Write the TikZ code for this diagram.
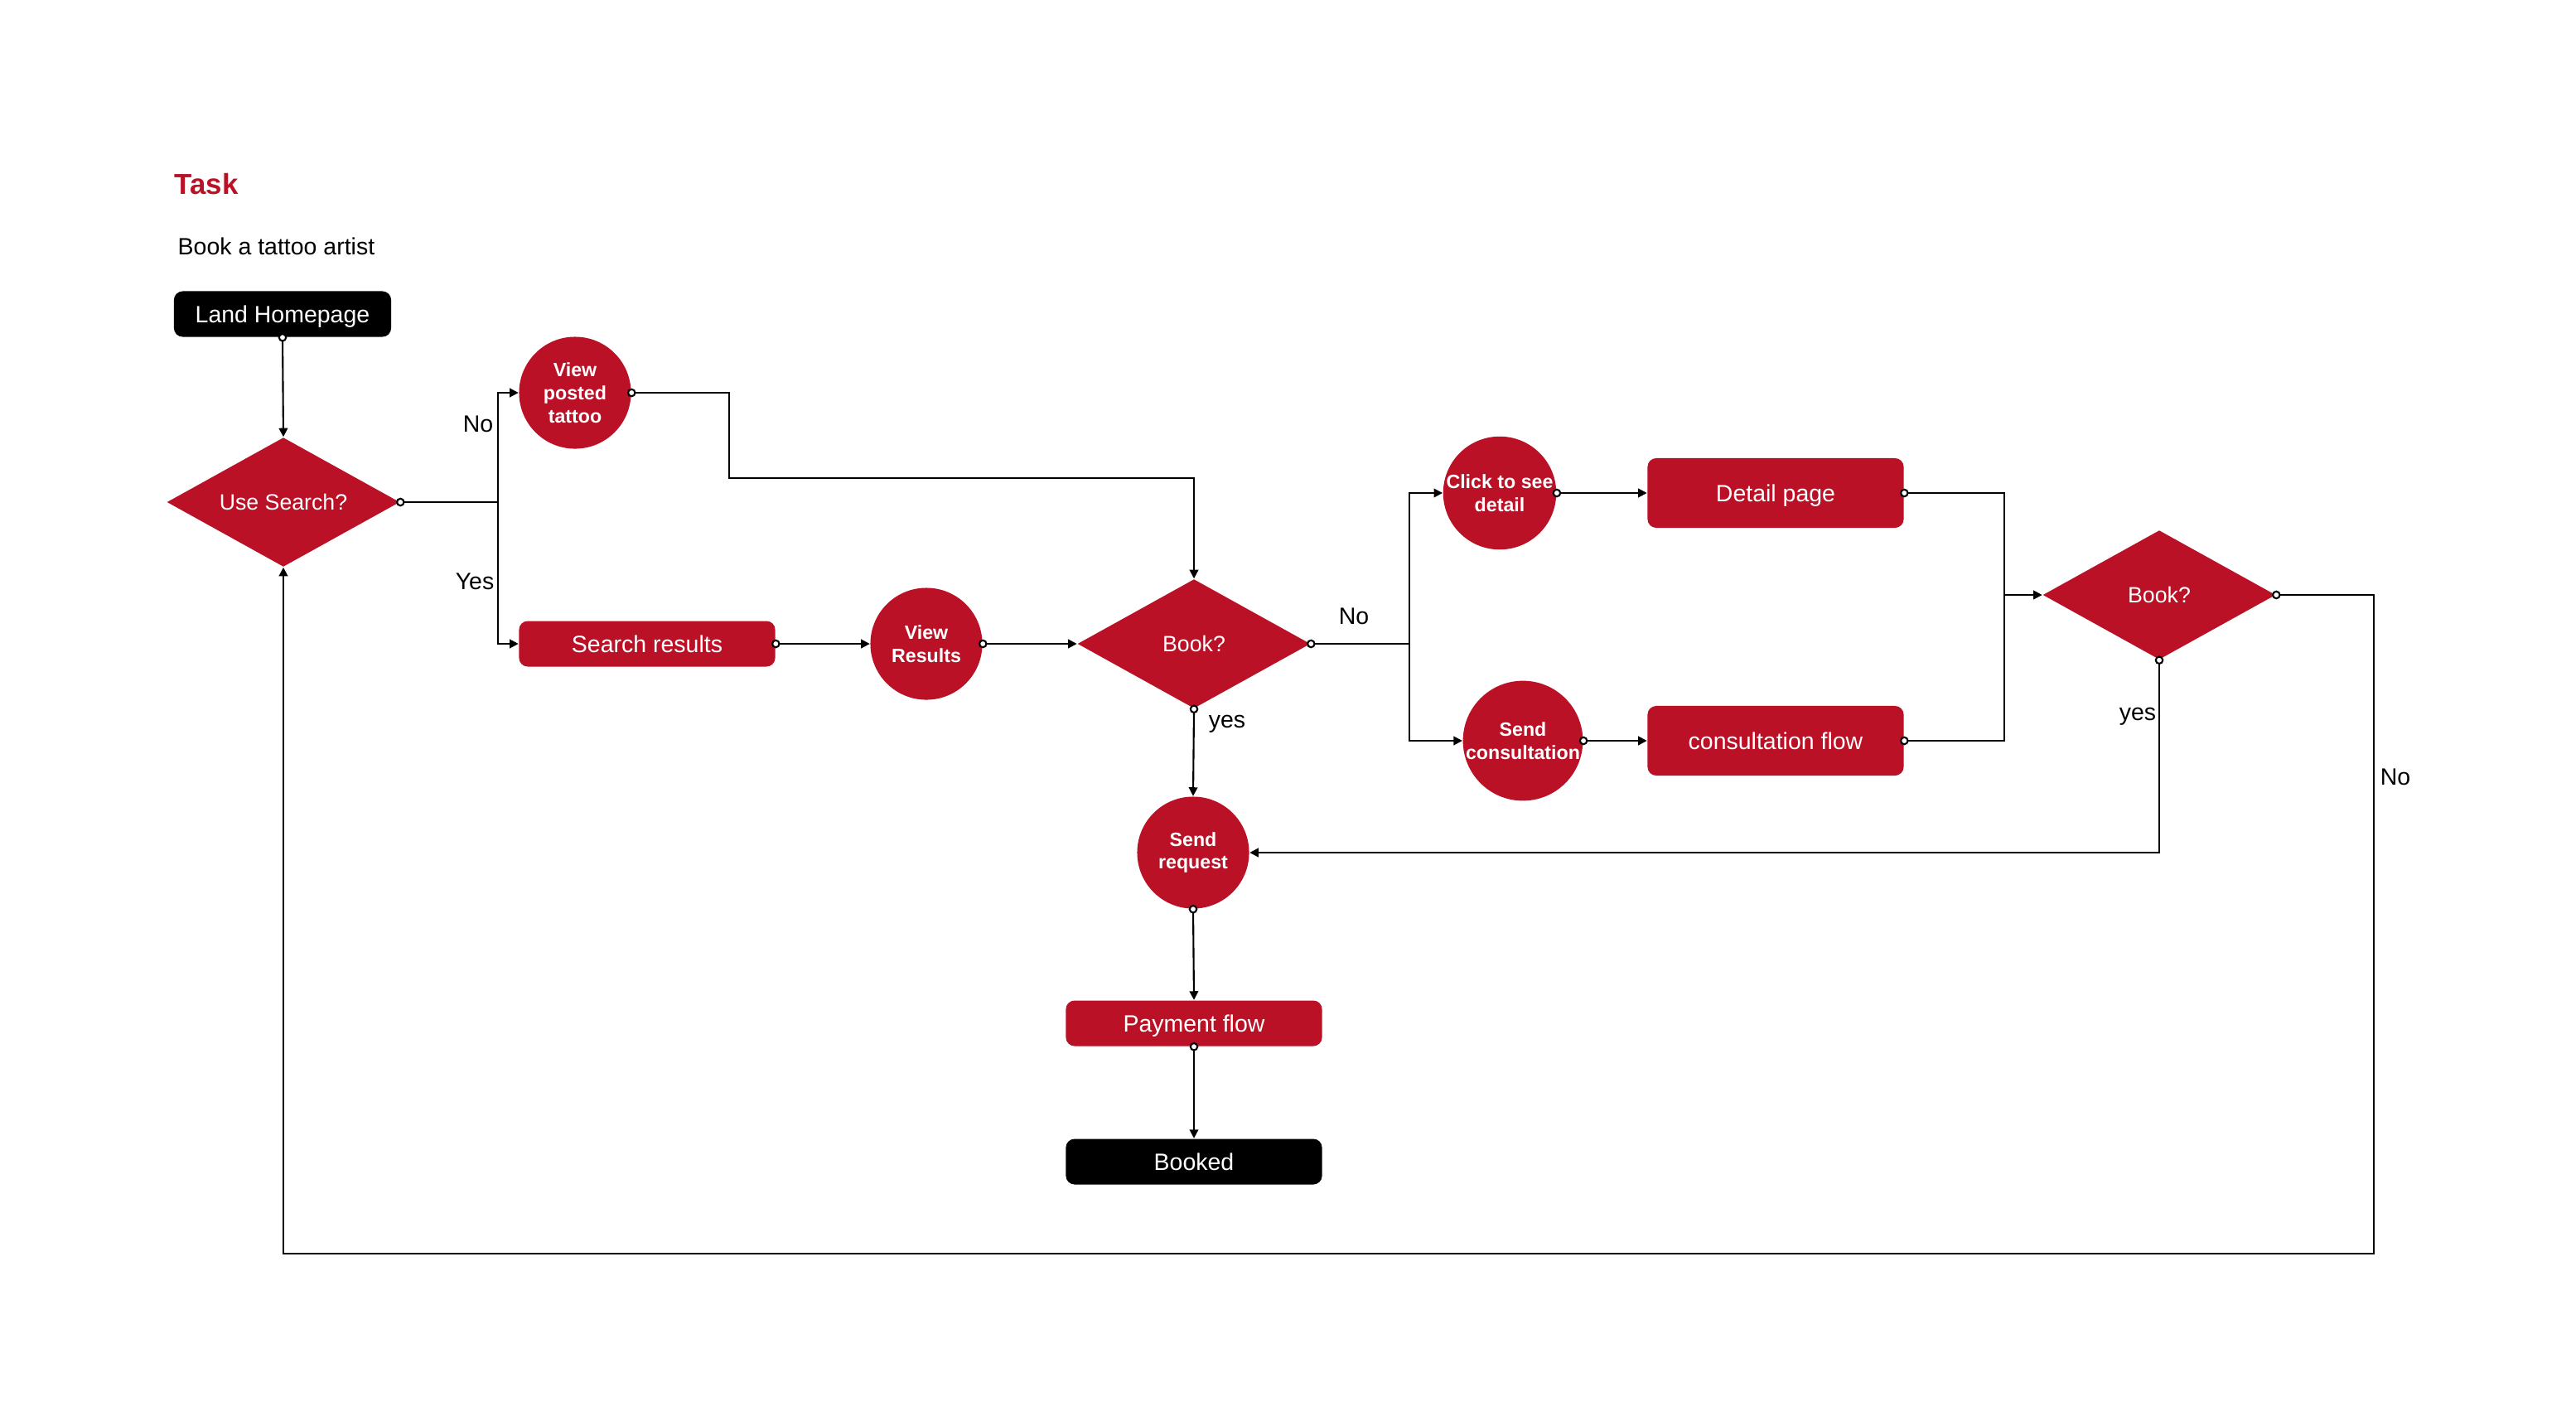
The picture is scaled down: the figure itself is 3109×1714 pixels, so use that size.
\documentclass[tikz,border=0pt]{standalone}
\usepackage{fontspec}
\setmainfont{Liberation Sans}
\usetikzlibrary{shapes.geometric, arrows.meta, positioning, calc}
\definecolor{tatRed}  {HTML}{BA1127}
\definecolor{tatInk}  {HTML}{000000}
\tikzset{
  endbox/.style  = {rectangle, rounded corners=3pt, fill=tatInk, text=white,
                    minimum width=2.62cm, minimum height=0.55cm, inner sep=0pt,
                    text depth=0pt, font=\fontsize{8.1}{9.5}\selectfont},
  pagebox/.style = {rectangle, rounded corners=3pt, fill=tatRed, text=white,
                    minimum width=3.09cm, minimum height=0.55cm, inner sep=0pt,
                    text depth=0pt, font=\fontsize{8.1}{9.5}\selectfont},
  stepdot/.style = {circle, fill=tatRed, text=white, minimum size=1.35cm,
                    inner sep=0pt, align=center,
                    font=\fontsize{6.6}{7.9}\selectfont\bfseries},
  choice/.style  = {diamond, aspect=1.8, fill=tatRed, text=white,
                    minimum width=2.81cm, minimum height=1.56cm, inner sep=0pt,
                    font=\fontsize{7.6}{9}\selectfont},
  link/.style    = {-{Triangle[length=3pt,width=3pt]}, line width=0.6pt},
  flow/.style    = {{Circle[fill=white,length=3pt]}-{Triangle[length=3pt,width=3pt]},
                    line width=0.6pt, shorten <=-1.5pt},
  joint/.style   = {{Circle[fill=white,length=3pt]}-, line width=0.6pt,
                    shorten <=-1.5pt},
  answer/.style  = {font=\fontsize{8.1}{9.5}\selectfont, inner sep=0pt},
}
\begin{document}
\begin{tikzpicture}[x=0.01cm, y=-0.01cm]
  \useasboundingbox (0,0) rectangle (3109,1714);

  % heading
  \node[anchor=west, inner sep=0pt, text=tatRed,
        font=\fontsize{9.9}{12}\selectfont\bfseries] (task) at (210,222) {Task};
  \node[anchor=west, answer] (goal) at (214,297) {Book a tattoo artist};

  % left part
  \node[endbox]  (home)   at (341,379)  {Land Homepage};
  \node[choice]  (search) at (342,606)  {Use Search?};
  \node[stepdot] (posted) at (694,474)  {View\\posted\\tattoo};
  \node[pagebox] (results) at (781,777) {Search results};
  \node[stepdot] (viewres) at (1118,777) {View\\Results};
  \node[choice]  (bookA)  at (1441,777) {Book?};

  % middle column
  \node[stepdot] (request) at (1440,1029) {Send\\request};
  \node[pagebox] (payment) at (1441,1235) {Payment flow};
  \node[endbox, minimum width=3.09cm] (booked) at (1441,1402) {Booked};

  % right part
  \node[stepdot] (seedet)  at (1810,595) {Click to see\\detail};
  \node[stepdot] (sendcon) at (1838,894) {Send\\consultation};
  \node[pagebox, minimum height=0.84cm] (detail)  at (2143,595) {Detail page};
  \node[pagebox, minimum height=0.84cm] (consult) at (2143,894) {consultation flow};
  \node[choice]  (bookB)  at (2606,718) {Book?};

  \coordinate (splitA) at (601,606);
  \coordinate (overA)  at (880,577);
  \coordinate (splitB) at (1701,777);
  \coordinate (merge)  at (2419,718);
  \coordinate (loopR)  at (2865,1513);

  % connectors
  \draw[flow] (home.south) -- (search.north);
  \draw[joint] (search.east) -- (splitA);
  \draw[link] (splitA) |- (posted.west);
  \draw[link] (splitA) |- (results.west);
  \draw[flow] (posted.east) -| (overA) -| (bookA.north);
  \draw[flow] (results.east) -- (viewres.west);
  \draw[flow] (viewres.east) -- (bookA.west);
  \draw[joint] (bookA.east) -- (splitB);
  \draw[link] (splitB) |- (seedet.west);
  \draw[link] (splitB) |- (sendcon.west);
  \draw[flow] (seedet.east) -- (detail.west);
  \draw[flow] (sendcon.east) -- (consult.west);
  \draw[joint] (detail.east) -| (merge);
  \draw[joint] (consult.east) -| (merge);
  \draw[link] (merge) -- (bookB.west);
  \draw[flow] (bookA.south) -- (request.north);
  \draw[flow] (bookB.south) |- (request.east);
  \draw[flow] (bookB.east) -| (loopR) -| (search.south);
  \draw[flow] (request.south) -- (payment.north);
  \draw[flow] (payment.south) -- (booked.north);

  % answers
  \node[answer] (noA)  at (577,512)  {No};
  \node[answer] (yesA) at (573,702)  {Yes};
  \node[answer] (noB)  at (1634,744) {No};
  \node[answer] (yesB) at (1481,874) {yes};
  \node[answer] (yesC) at (2580,865) {yes};
  \node[answer] (noC)  at (2891,938) {No};
\end{tikzpicture}
\end{document}
